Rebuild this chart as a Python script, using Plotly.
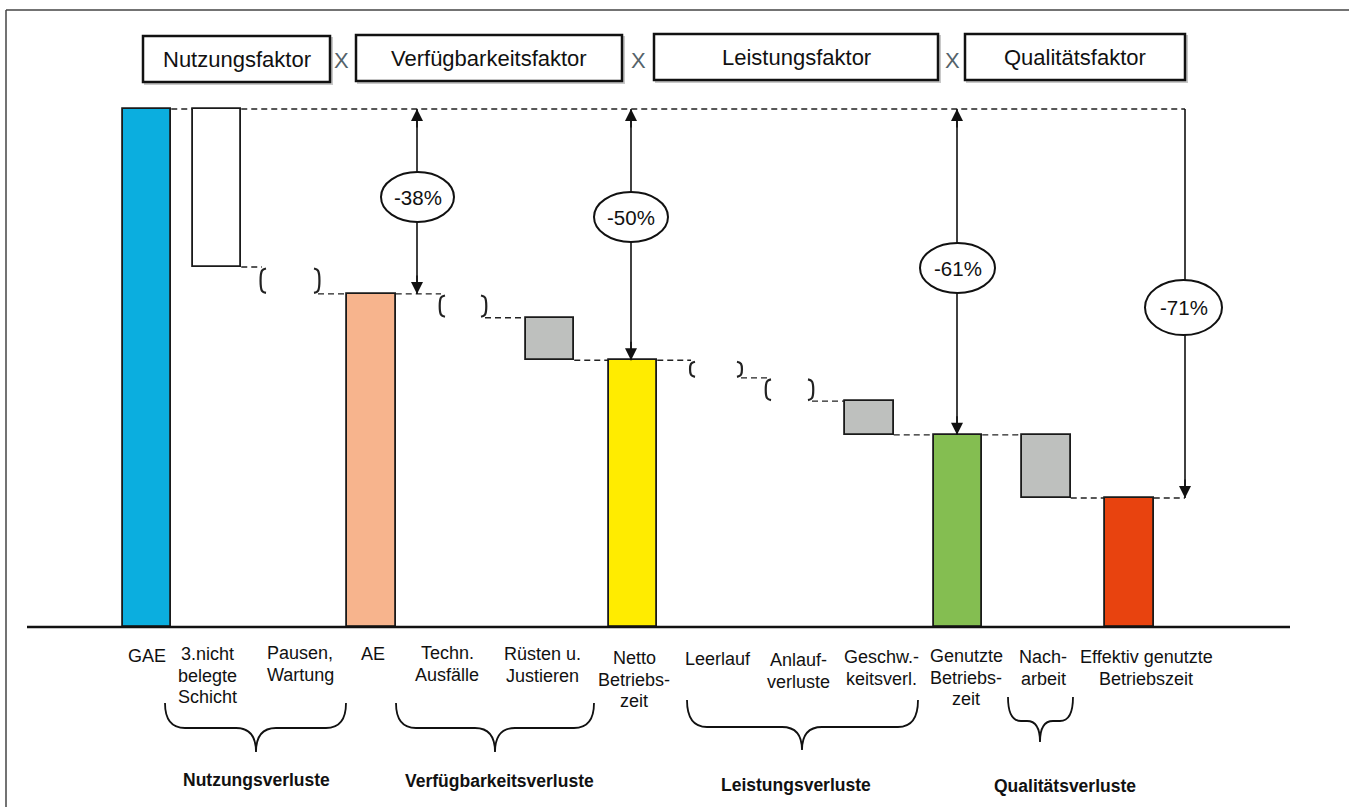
import plotly.graph_objects as go

# ---------------- data ----------------
categories = ["GAE", "3.nicht<br>belegte<br>Schicht", "Pausen,<br>Wartung", "AE",
              "Techn.<br>Ausfälle", "Rüsten u.<br>Justieren", "Netto<br>Betriebs-<br>zeit",
              "Leerlauf", "Anlauf-<br>verluste", "Geschw.-<br>keitsverl.",
              "Genutzte<br>Betriebs-<br>zeit", "Nach-<br>arbeit", "Effektiv genutzte<br>Betriebszeit"]
measure = ["absolute", "loss", "loss", "total", "loss", "loss", "total",
           "loss", "loss", "loss", "total", "loss", "total"]
amounts = [100, 30.5, 5.2, None, 4.6, 8.2, None, 3.4, 4.5, 6.5, None, 12.2, None]
factor_names = ["Nutzungsfaktor", "Verfügbarkeitsfaktor", "Leistungsfaktor", "Qualitätsfaktor"]
group_names = ["Nutzungsverluste", "Verfügbarkeitsverluste", "Leistungsverluste", "Qualitätsverluste"]
reduction_labels = ["-38%", "-50%", "-61%", "-71%"]
reduction_targets = [3, 6, 10, 12]   # index of total bar each arrow points to

# ---------------- layout / style ----------------
W, H = 1349, 807
BASE_PX, PX_PER_UNIT = 627, 5.18
x_center = [147, 217, 290, 371.5, 463, 550, 633, 716, 789.5, 869.5, 958, 1046.5, 1129.5]
bar_w = [48.5, 48.5, 56, 48.5, 44, 48.5, 48.5, 50, 45, 48.5, 48.5, 48.5, 48.5]
style = ["fill", "fill", "bracket", "fill", "bracket", "fill", "fill",
         "bracket", "bracket", "fill", "fill", "fill", "fill"]
colors = ["#0BAEDF", "#FFFFFF", None, "#F7B48D", None, "#BEC0BE", "#FFEC00",
          None, None, "#BEC0BE", "#84BE51", "#BEC0BE", "#E8430F"]
arrow_x = [417, 631, 957, 1185]
arrow_top_head = [True, True, True, False]
ellipses = [(381, 454, 172, 222), (594, 668, 192, 242), (920, 995, 243, 293), (1145, 1222, 280, 335)]
factor_boxes = [(143, 330, 36, 82), (356, 622, 35, 81), (654, 938, 34, 80), (965, 1185, 34, 80)]
x_marks = [341, 638, 952]
label_x = [147, 207, 300, 373, 447, 542, 634, 718, 798, 881, 966, 1043, 1146]
label_y0 = [656, 654, 653, 654, 653, 654, 658, 659, 660, 657, 656, 657, 657]
LINE_H = 21.5
braces = [(165, 346, 256, 703, 728, 752, 20), (396, 594, 495, 703, 728, 752, 20),
          (687, 918, 802, 700, 727, 750, 20), (1008, 1073, 1040, 697, 721, 742, 13)]
group_label_pos = [(256, 780), (499, 781), (796, 785), (1065, 786)]

FONT = "Liberation Sans, Arial, sans-serif"

# ---------------- compute waterfall levels ----------------
bases, heights, ends = [], [], []
level = 0
for m, a in zip(measure, amounts):
    if m == "absolute":
        level = a
        bases.append(0); heights.append(a)
    elif m == "total":
        bases.append(0); heights.append(level)
    else:
        bases.append(level - a); heights.append(a)
        level = level - a
    ends.append(level)
tops = [b + h for b, h in zip(bases, heights)]

fig = go.Figure()

# dashed connectors
dash_style = dict(color="#222222", width=1.3, dash="6px,4px")
def hline(x0, x1, y):
    fig.add_shape(type="line", x0=x0, x1=x1, y0=y, y1=y, xref="x", yref="y",
                  line=dash_style, layer="below")

hline(x_center[0] + bar_w[0] / 2, arrow_x[-1], tops[0])
for i in range(1, len(categories) - 1):
    hline(x_center[i] + bar_w[i] / 2, x_center[i + 1] - bar_w[i + 1] / 2, ends[i])
hline(x_center[-1] + bar_w[-1] / 2, arrow_x[-1], ends[-1])

# filled bars
fi = [i for i, s in enumerate(style) if s == "fill"]
fig.add_trace(go.Bar(
    x=[x_center[i] for i in fi], y=[heights[i] for i in fi], base=[bases[i] for i in fi],
    width=[bar_w[i] for i in fi],
    marker=dict(color=[colors[i] for i in fi], line=dict(color="#1a1a1a", width=1.8)),
    hoverinfo="skip", showlegend=False))

# bracket-style losses
for i, s in enumerate(style):
    if s != "bracket":
        continue
    xl = x_center[i] - bar_w[i] / 2
    xr = x_center[i] + bar_w[i] / 2
    t = tops[i] - 0.3
    b = bases[i] + 0.2
    fig.add_trace(go.Scatter(x=[xl + 4, xl, xl, xl + 4], y=[t, t - 0.4, b + 0.4, b],
                             mode="lines", line=dict(color="#222222", width=2.2, shape="spline"),
                             hoverinfo="skip", showlegend=False))
    fig.add_trace(go.Scatter(x=[xr - 4, xr, xr, xr - 4], y=[t, t - 0.4, b + 0.4, b],
                             mode="lines", line=dict(color="#222222", width=2.2, shape="spline"),
                             hoverinfo="skip", showlegend=False))

# vertical reduction arrows
for k, (ax_, ti) in enumerate(zip(arrow_x, reduction_targets)):
    fig.add_trace(go.Scatter(x=[ax_, ax_], y=[tops[0], ends[ti]], mode="lines",
                             line=dict(color="#111111", width=1.6),
                             hoverinfo="skip", showlegend=False))
    fig.add_annotation(x=ax_, y=ends[ti], xref="x", yref="y", ax=0, ay=-20, text="",
                       showarrow=True, arrowhead=2, arrowsize=1.6, arrowwidth=1.5,
                       arrowcolor="#111111")
    if arrow_top_head[k]:
        fig.add_annotation(x=ax_, y=tops[0], xref="x", yref="y", ax=0, ay=20, text="",
                           showarrow=True, arrowhead=2, arrowsize=1.6, arrowwidth=1.5,
                           arrowcolor="#111111")

for (x0, x1, y0, y1), lab in zip(ellipses, reduction_labels):
    fig.add_shape(type="circle", x0=x0, x1=x1, y0=y0, y1=y1, xref="x", yref="y2",
                  fillcolor="white", line=dict(color="#111111", width=2))
    fig.add_annotation(x=(x0 + x1) / 2, y=(y0 + y1) / 2, xref="x", yref="y2", text=lab,
                       showarrow=False, font=dict(family=FONT, size=20.5, color="#111111"))

# baseline
fig.add_shape(type="line", x0=27, x1=1290, y0=0, y1=0, xref="x", yref="y",
              line=dict(color="#111111", width=2.5))

# factor boxes
for (x0, x1, y0, y1), name in zip(factor_boxes, factor_names):
    fig.add_shape(type="rect", x0=x0 + 2, x1=x1 + 2, y0=y0 + 2, y1=y1 + 2, xref="x", yref="y2",
                  line=dict(color="#c8c8c8", width=2), fillcolor="#c8c8c8", layer="below")
    fig.add_shape(type="rect", x0=x0, x1=x1, y0=y0, y1=y1, xref="x", yref="y2",
                  line=dict(color="#111111", width=2.5), fillcolor="white")
    fig.add_annotation(x=(x0 + x1) / 2, y=(y0 + y1) / 2, xref="x", yref="y2", text=name,
                       showarrow=False, font=dict(family=FONT, size=22, color="#111111"))
for xm in x_marks:
    fig.add_annotation(x=xm, y=60, xref="x", yref="y2", text="X", showarrow=False,
                       font=dict(family=FONT, size=22, color="#55636a"))

# category labels
for cat, lx, ly in zip(categories, label_x, label_y0):
    for j, line in enumerate(cat.split("<br>")):
        fig.add_annotation(x=lx, y=ly + j * LINE_H, xref="x", yref="y2", text=line,
                           showarrow=False, font=dict(family=FONT, size=18, color="#111111"))

# braces
for (xl, xr, xt, yt, ym, yp, r) in braces:
    path = (f"M {xl},{yt} Q {xl},{ym} {xl + r},{ym} L {xt - r},{ym} Q {xt},{ym} {xt},{yp} "
            f"Q {xt},{ym} {xt + r},{ym} L {xr - r},{ym} Q {xr},{ym} {xr},{yt}")
    fig.add_shape(type="path", path=path, xref="x", yref="y2",
                  line=dict(color="#111111", width=1.8))
for (gx, gy), name in zip(group_label_pos, group_names):
    fig.add_annotation(x=gx, y=gy, xref="x", yref="y2", text=f"<b>{name}</b>",
                       showarrow=False, font=dict(family=FONT, size=17.5, color="#111111"))

# frame
fig.add_shape(type="line", x0=6, x1=W + 5, y0=10, y1=10, xref="x", yref="y2",
              line=dict(color="#444444", width=1.5))
fig.add_shape(type="line", x0=6, x1=6, y0=10, y1=H + 5, xref="x", yref="y2",
              line=dict(color="#444444", width=1.5))

ymin = -(H - BASE_PX) / PX_PER_UNIT
ymax = BASE_PX / PX_PER_UNIT
fig.update_layout(
    width=W, height=H, margin=dict(l=0, r=0, t=0, b=0),
    paper_bgcolor="white", plot_bgcolor="white", showlegend=False, bargap=0,
    xaxis=dict(range=[0, W], visible=False, fixedrange=True),
    yaxis=dict(range=[ymin, ymax], visible=False, fixedrange=True),
    yaxis2=dict(range=[H, 0], visible=False, overlaying="y", fixedrange=True),
)
# dummy trace to activate y2
fig.add_trace(go.Scatter(x=[0], y=[0], yaxis="y2", mode="markers",
                         marker=dict(opacity=0), hoverinfo="skip", showlegend=False))

fig.write_html("out.html", config={"displayModeBar": False},
               post_script="document.body.style.margin='0';document.body.style.overflow='hidden';")
